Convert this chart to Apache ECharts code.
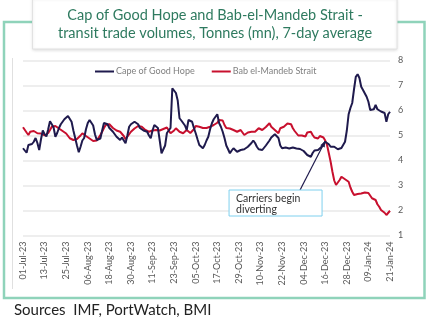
<!DOCTYPE html>
<html>
<head>
<meta charset="utf-8">
<script src="https://cdn.jsdelivr.net/npm/echarts@6/dist/echarts.min.js"></script>
<style>
  html, body { margin: 0; padding: 0; background: #ffffff; }
  #chart { width: 440px; height: 331px; }
</style>
</head>
<body>
<div id="chart"></div>
<script>
// Daily dates from 01-Jul-23 to 21-Jan-24
const startDate = new Date(Date.UTC(2023, 6, 1));
const dayCount = 205;
const monthNames = ['Jan','Feb','Mar','Apr','May','Jun','Jul','Aug','Sep','Oct','Nov','Dec'];
const dates = [];
for (let i = 0; i < dayCount; i++) {
  const d = new Date(startDate.getTime() + i * 86400000);
  const dd = String(d.getUTCDate()).padStart(2, '0');
  const yy = String(d.getUTCFullYear()).slice(2);
  dates.push(dd + '-' + monthNames[d.getUTCMonth()] + '-' + yy);
}

// Transit trade volumes, tonnes (mn), 7-day average
const capeOfGoodHope = [
  4.49, 4.42, 4.31, 4.62, 4.68, 4.66, 4.75, 4.90, 4.70, 4.42,
  4.85, 5.20, 5.05, 4.96, 5.25, 5.57, 5.45, 5.32, 4.95, 5.10,
  5.30, 5.45, 5.55, 5.65, 5.70, 5.78, 5.80, 5.55, 5.20, 4.90,
  4.60, 4.33, 4.55, 4.80, 4.90, 5.25, 5.50, 5.62, 5.55, 5.40,
  5.05, 4.82, 4.85, 4.88, 5.20, 5.50, 5.48, 5.45, 5.30, 5.22,
  5.15, 5.05, 4.95, 4.88, 4.82, 4.92, 4.90, 4.69, 5.00, 5.35,
  5.45, 5.50, 5.55, 5.50, 5.45, 5.30, 5.22, 5.20, 5.18, 5.15,
  5.00, 4.89, 5.20, 5.42, 5.38, 5.30, 4.80, 4.29, 4.22, 4.60,
  5.10, 5.20, 5.30, 6.89, 6.92, 6.70, 6.40, 5.69, 5.60, 5.55,
  5.40, 5.22, 5.62, 5.60, 5.55, 5.30, 5.09, 4.85, 4.62, 4.55,
  4.49, 4.62, 4.80, 4.95, 5.25, 5.49, 5.65, 5.75, 5.85, 5.50,
  5.35, 5.15, 4.90, 4.60, 4.45, 4.29, 4.40, 4.49, 4.42, 4.35,
  4.40, 4.42, 4.49, 4.45, 4.50, 4.55, 4.62, 4.70, 4.80, 4.70,
  4.55, 4.45, 4.48, 4.42, 4.50, 4.60, 4.70, 4.80, 4.92, 5.00,
  5.05, 5.08, 4.90, 4.60, 4.49, 4.55, 4.52, 4.50, 4.48, 4.50,
  4.52, 4.55, 4.48, 4.42, 4.46, 4.45, 4.38, 4.31, 4.22, 4.18,
  4.15, 4.30, 4.40, 4.38, 4.42, 4.48, 4.55, 4.65, 4.75, 4.70,
  4.65, 4.55, 4.62, 4.55, 4.49, 4.45, 4.42, 4.50, 4.55, 4.75,
  5.20, 5.85, 6.10, 6.30, 6.85, 7.35, 7.45, 7.30, 6.95, 6.82,
  6.75, 6.55, 6.35, 6.02, 6.02, 6.05, 6.22, 6.05, 5.98, 5.96,
  5.95, 5.90, 5.55, 5.85, 5.95
];

const babElMandeb = [
  5.33, 5.25, 5.12, 5.02, 5.15, 5.22, 5.18, 5.15, 5.09, 5.12,
  5.08, 5.05, 5.00, 4.98, 5.10, 5.22, 5.35, 5.42, 5.38, 5.32,
  5.28, 5.22, 5.18, 5.15, 5.08, 5.02, 4.89, 4.85, 4.82, 4.84,
  4.86, 4.88, 5.00, 5.09, 5.05, 4.98, 4.95, 4.88, 4.82, 4.78,
  4.75, 4.80, 4.88, 5.02, 5.15, 5.30, 5.42, 5.49, 5.45, 5.38,
  5.30, 5.22, 5.20, 5.22, 5.15, 5.10, 4.98, 4.85, 4.95, 5.05,
  5.15, 5.22, 5.28, 5.32, 5.38, 5.36, 5.35, 5.28, 5.22, 5.18,
  5.15, 5.22, 5.20, 5.25, 5.22, 5.25, 5.20, 5.22, 5.26, 5.30,
  5.32, 5.33, 5.09, 5.15, 5.20, 5.29, 5.22, 5.15, 5.12, 5.09,
  5.15, 5.22, 5.15, 5.10, 5.18, 5.25, 5.38, 5.36, 5.35, 5.32,
  5.30, 5.28, 5.30, 5.33, 5.35, 5.38, 5.42, 5.46, 5.51, 5.62,
  5.62, 5.60, 5.42, 5.30, 5.22, 5.28, 5.35, 5.22, 5.18, 5.15,
  5.18, 5.22, 5.15, 5.02, 5.08, 5.12, 5.14, 5.15, 5.12, 5.15,
  5.22, 5.29, 5.25, 5.22, 5.29, 5.34, 5.38, 5.49, 5.35, 5.28,
  5.22, 5.15, 5.09, 5.29, 5.32, 5.35, 5.42, 5.48, 5.51, 5.45,
  5.29, 5.18, 5.09, 5.00, 5.02, 5.00, 4.98, 4.96, 5.12, 5.18,
  5.15, 5.02, 4.92, 4.85, 4.88, 4.98, 5.04, 4.92, 4.80, 4.62,
  4.29, 3.95, 3.55, 3.20, 3.02, 3.10, 3.22, 3.35, 3.30, 3.25,
  3.22, 3.15, 2.92, 2.75, 2.62, 2.58, 2.66, 2.70, 2.68, 2.70,
  2.72, 2.75, 2.70, 2.62, 2.49, 2.45, 2.42, 2.25, 2.15, 2.02,
  1.98, 1.91, 1.82, 1.88, 1.99
];

const yTicks = { min: 1, max: 8, step: 1 };
const annotationText = ['Carriers begin', 'diverting'];
// Annotation anchor points in data space: arrow tip and box tail
const arrowTip = ['16-Dec-23', 4.78];
const arrowTail = ['02-Dec-23', 2.82];

const chart = echarts.init(document.getElementById('chart'), null, { renderer: 'canvas' });

const option = {
  animation: false,
  backgroundColor: '#ffffff',
  textStyle: { fontFamily: 'Lato, "Open Sans", sans-serif' },
  grid: { left: 23, right: 50, top: 60.5, bottom: 95.5, containLabel: false },
  legend: {
    top: 62,
    left: 90,
    itemWidth: 19,
    itemHeight: 2,
    itemGap: 17,
    icon: 'rect',
    textStyle: { fontSize: 9, color: '#808080', fontFamily: 'Lato, sans-serif', padding: [0, 0, 0, -3] },
    data: ['Cape of Good Hope', 'Bab el-Mandeb Strait']
  },
  xAxis: {
    type: 'category',
    data: dates,
    boundaryGap: false,
    axisLine: { show: false },
    axisTick: { show: false },
    splitLine: { show: false },
    axisLabel: {
      interval: 11,
      rotate: 90,
      fontSize: 9,
      color: '#595959',
      margin: 6,
      fontFamily: 'Lato, sans-serif'
    }
  },
  yAxis: {
    type: 'value',
    position: 'right',
    min: yTicks.min,
    max: yTicks.max,
    interval: yTicks.step,
    axisLine: { show: false },
    axisTick: { show: false },
    axisLabel: { fontSize: 9, color: '#595959', margin: 8, fontFamily: 'Lato, sans-serif' },
    splitLine: { lineStyle: { color: '#e8e8e8', width: 1.5 } }
  },
  series: [
    {
      name: 'Cape of Good Hope',
      type: 'line',
      data: capeOfGoodHope,
      showSymbol: false,
      symbol: 'none',
      lineStyle: { color: '#1f1a4d', width: 2 },
      itemStyle: { color: '#1f1a4d' },
      z: 3
    },
    {
      name: 'Bab el-Mandeb Strait',
      type: 'line',
      data: babElMandeb,
      showSymbol: false,
      symbol: 'none',
      lineStyle: { color: '#c8102e', width: 2 },
      itemStyle: { color: '#c8102e' },
      z: 2
    }
  ]
};

chart.setOption(option);

// Frame, title panel, source note and annotation
const tip = chart.convertToPixel({ xAxisIndex: 0, yAxisIndex: 0 }, arrowTip);
const tail = chart.convertToPixel({ xAxisIndex: 0, yAxisIndex: 0 }, arrowTail);
const boxW = 93, boxH = 26;
const boxX = tail[0] - 71, boxY = tail[1];

chart.setOption({
  graphic: [
    {
      type: 'line', z: 1,
      shape: { x1: 12.5, y1: 58, x2: 12.5, y2: 289 },
      style: { stroke: '#e0e0e0', lineWidth: 1 }
    },
    {
      type: 'rect', z: 5,
      shape: { x: 4, y: 22, width: 420.5, height: 276 },
      style: { fill: 'none', stroke: '#8fd3ba', lineWidth: 2.5 }
    },
    {
      type: 'rect', z: 6,
      shape: { x: 32.5, y: -2, width: 364.5, height: 51 },
      style: { fill: '#ffffff', stroke: '#e2e2e2', lineWidth: 1, shadowBlur: 3, shadowColor: 'rgba(0,0,0,0.12)', shadowOffsetY: 1 }
    },
    {
      type: 'text', z: 7,
      style: {
        x: 215, y: 6,
        text: 'Cap of Good Hope and Bab-el-Mandeb Strait -\ntransit trade volumes, Tonnes (mn), 7-day average',
        textAlign: 'center', textVerticalAlign: 'top',
        font: '14.5px Lato, sans-serif', fill: '#2e7a5f', lineHeight: 18
      }
    },
    {
      type: 'text', z: 7,
      style: {
        x: 14, y: 303,
        text: 'Sources  IMF, PortWatch, BMI',
        font: '15px Lato, sans-serif', fill: '#222222'
      }
    },
    {
      type: 'line', z: 8,
      shape: { x1: tail[0], y1: tail[1], x2: tip[0], y2: tip[1] },
      style: { stroke: '#1f1a4d', lineWidth: 1.2 }
    },
    {
      type: 'polygon', z: 8,
      shape: (function () {
        const dx = tip[0] - tail[0], dy = tip[1] - tail[1];
        const len = Math.sqrt(dx * dx + dy * dy);
        const ux = dx / len, uy = dy / len;
        const bx = tip[0] - ux * 6, by = tip[1] - uy * 6;
        return { points: [[tip[0], tip[1]], [bx - uy * 2.5, by + ux * 2.5], [bx + uy * 2.5, by - ux * 2.5]] };
      })(),
      style: { fill: '#1f1a4d' }
    },
    {
      type: 'rect', z: 9,
      shape: { x: boxX, y: boxY, width: boxW, height: boxH },
      style: { fill: '#ffffff', stroke: '#7fd0ee', lineWidth: 1 }
    },
    {
      type: 'text', z: 10,
      style: {
        x: boxX + 7, y: boxY + 3,
        text: annotationText.join('\n'),
        font: '10.5px Lato, sans-serif', fill: '#333333', lineHeight: 11
      }
    }
  ]
});
</script>
</body>
</html>
